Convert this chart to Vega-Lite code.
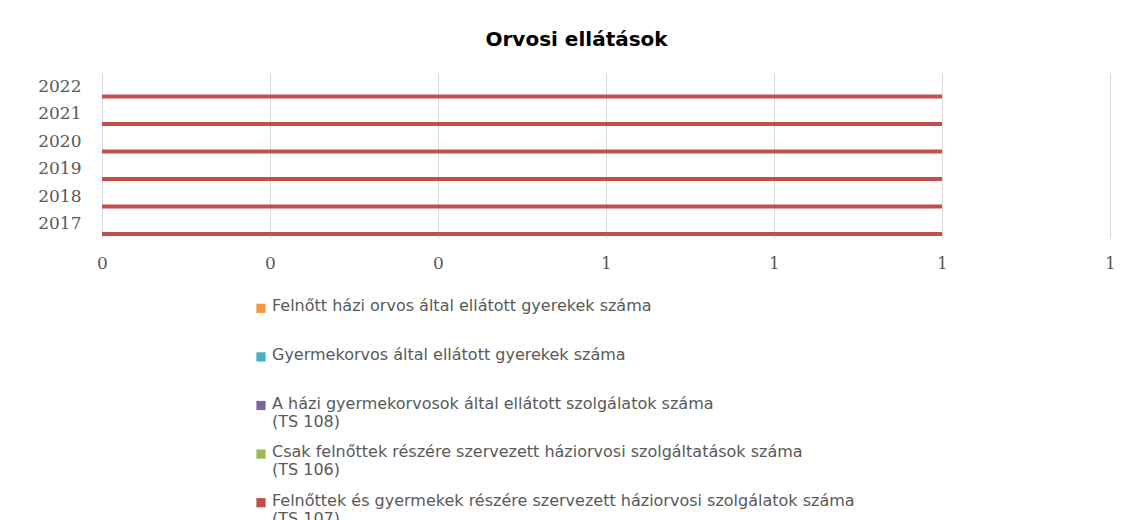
{
  "$schema": "https://vega.github.io/schema/vega-lite/v6.json",
  "background": "white",
  "padding": {"left": 37, "top": 30, "right": 0, "bottom": 0},
  "title": {"text": "Orvosi ellátások", "anchor": "middle", "font": "DejaVu Sans", "fontSize": 20, "fontWeight": "bold", "color": "#000000", "offset": 23},
  "datasets": {
    "bars": [
      {"year": "2017", "series": "Felnőtt házi orvos által ellátott gyerekek száma", "value": 0},
      {"year": "2017", "series": "Gyermekorvos által ellátott gyerekek száma", "value": 0},
      {"year": "2017", "series": "A házi gyermekorvosok által ellátott szolgálatok száma (TS 108)", "value": 0},
      {"year": "2017", "series": "Csak felnőttek részére szervezett háziorvosi szolgáltatások száma (TS 106)", "value": 0},
      {"year": "2017", "series": "Felnőttek és gyermekek részére szervezett háziorvosi szolgálatok száma (TS 107)", "value": 1},
      {"year": "2018", "series": "Felnőtt házi orvos által ellátott gyerekek száma", "value": 0},
      {"year": "2018", "series": "Gyermekorvos által ellátott gyerekek száma", "value": 0},
      {"year": "2018", "series": "A házi gyermekorvosok által ellátott szolgálatok száma (TS 108)", "value": 0},
      {"year": "2018", "series": "Csak felnőttek részére szervezett háziorvosi szolgáltatások száma (TS 106)", "value": 0},
      {"year": "2018", "series": "Felnőttek és gyermekek részére szervezett háziorvosi szolgálatok száma (TS 107)", "value": 1},
      {"year": "2019", "series": "Felnőtt házi orvos által ellátott gyerekek száma", "value": 0},
      {"year": "2019", "series": "Gyermekorvos által ellátott gyerekek száma", "value": 0},
      {"year": "2019", "series": "A házi gyermekorvosok által ellátott szolgálatok száma (TS 108)", "value": 0},
      {"year": "2019", "series": "Csak felnőttek részére szervezett háziorvosi szolgáltatások száma (TS 106)", "value": 0},
      {"year": "2019", "series": "Felnőttek és gyermekek részére szervezett háziorvosi szolgálatok száma (TS 107)", "value": 1},
      {"year": "2020", "series": "Felnőtt házi orvos által ellátott gyerekek száma", "value": 0},
      {"year": "2020", "series": "Gyermekorvos által ellátott gyerekek száma", "value": 0},
      {"year": "2020", "series": "A házi gyermekorvosok által ellátott szolgálatok száma (TS 108)", "value": 0},
      {"year": "2020", "series": "Csak felnőttek részére szervezett háziorvosi szolgáltatások száma (TS 106)", "value": 0},
      {"year": "2020", "series": "Felnőttek és gyermekek részére szervezett háziorvosi szolgálatok száma (TS 107)", "value": 1},
      {"year": "2021", "series": "Felnőtt házi orvos által ellátott gyerekek száma", "value": 0},
      {"year": "2021", "series": "Gyermekorvos által ellátott gyerekek száma", "value": 0},
      {"year": "2021", "series": "A házi gyermekorvosok által ellátott szolgálatok száma (TS 108)", "value": 0},
      {"year": "2021", "series": "Csak felnőttek részére szervezett háziorvosi szolgáltatások száma (TS 106)", "value": 0},
      {"year": "2021", "series": "Felnőttek és gyermekek részére szervezett háziorvosi szolgálatok száma (TS 107)", "value": 1},
      {"year": "2022", "series": "Felnőtt házi orvos által ellátott gyerekek száma", "value": 0},
      {"year": "2022", "series": "Gyermekorvos által ellátott gyerekek száma", "value": 0},
      {"year": "2022", "series": "A házi gyermekorvosok által ellátott szolgálatok száma (TS 108)", "value": 0},
      {"year": "2022", "series": "Csak felnőttek részére szervezett háziorvosi szolgáltatások száma (TS 106)", "value": 0},
      {"year": "2022", "series": "Felnőttek és gyermekek részére szervezett háziorvosi szolgálatok száma (TS 107)", "value": 1}
    ],
    "legend": [
      {"series": "Felnőtt házi orvos által ellátott gyerekek száma", "label": "Felnőtt házi orvos által ellátott gyerekek száma"},
      {"series": "Gyermekorvos által ellátott gyerekek száma", "label": "Gyermekorvos által ellátott gyerekek száma"},
      {"series": "A házi gyermekorvosok által ellátott szolgálatok száma (TS 108)", "label": "A házi gyermekorvosok által ellátott szolgálatok száma|(TS 108)"},
      {"series": "Csak felnőttek részére szervezett háziorvosi szolgáltatások száma (TS 106)", "label": "Csak felnőttek részére szervezett háziorvosi szolgáltatások száma|(TS 106)"},
      {"series": "Felnőttek és gyermekek részére szervezett háziorvosi szolgálatok száma (TS 107)", "label": "Felnőttek és gyermekek részére szervezett háziorvosi szolgálatok száma|(TS 107)"}
    ]
  },
  "spacing": 13,
  "vconcat": [
    {
      "width": 1008,
      "height": 165,
      "data": {"name": "bars"},
      "mark": {"type": "bar"},
      "encoding": {
        "y": {
          "field": "year", "type": "ordinal", "sort": "descending",
          "scale": {"paddingInner": 0, "paddingOuter": 0},
          "axis": {"title": null, "labelFont": "DejaVu Serif", "labelFontSize": 17, "labelColor": "#595959", "ticks": false, "domain": false, "labelPadding": 21, "grid": false}
        },
        "x": {
          "field": "value", "type": "quantitative",
          "scale": {"domain": [0, 1.2], "nice": false, "zero": true},
          "axis": {"title": null, "values": [0, 0.2, 0.4, 0.6, 0.8, 1.0, 1.2], "format": ".0f", "labelFont": "DejaVu Serif", "labelFontSize": 17, "labelColor": "#595959", "ticks": false, "domain": false, "labelPadding": 17, "grid": true, "gridColor": "#d9d9d9", "gridWidth": 1, "labelFlush": false}
        },
        "yOffset": {
          "field": "series", "type": "nominal",
          "sort": [
            "Felnőtt házi orvos által ellátott gyerekek száma",
            "Gyermekorvos által ellátott gyerekek száma",
            "A házi gyermekorvosok által ellátott szolgálatok száma (TS 108)",
            "Csak felnőttek részére szervezett háziorvosi szolgáltatások száma (TS 106)",
            "Felnőttek és gyermekek részére szervezett háziorvosi szolgálatok száma (TS 107)"
          ],
          "scale": {"paddingInner": 0.2, "paddingOuter": 0.4}
        },
        "color": {
          "field": "series", "type": "nominal",
          "scale": {
            "domain": [
              "Felnőtt házi orvos által ellátott gyerekek száma",
              "Gyermekorvos által ellátott gyerekek száma",
              "A házi gyermekorvosok által ellátott szolgálatok száma (TS 108)",
              "Csak felnőttek részére szervezett háziorvosi szolgáltatások száma (TS 106)",
              "Felnőttek és gyermekek részére szervezett háziorvosi szolgálatok száma (TS 107)"
            ],
            "range": ["#F79646", "#4BACC6", "#8064A2", "#9BBB59", "#C0504D"]
          },
          "legend": null
        }
      }
    },
    {
      "width": 318,
      "height": 243,
      "data": {"name": "legend"},
      "encoding": {
        "y": {"field": "series", "type": "nominal", "sort": null, "axis": null, "scale": {"paddingInner": 0, "paddingOuter": 0}}
      },
      "layer": [
        {
          "mark": {"type": "square", "size": 85, "filled": true, "opacity": 1},
          "encoding": {
            "color": {"field": "series", "type": "nominal", "legend": null}
          }
        },
        {
          "mark": {"type": "text", "align": "left", "baseline": "top", "dx": 11, "dy": -10, "lineBreak": "|", "lineHeight": 18, "font": "DejaVu Sans", "fontSize": 16, "color": "#595959"},
          "encoding": {"text": {"field": "label"}}
        }
      ]
    }
  ],
  "config": {"view": {"stroke": null}}
}
